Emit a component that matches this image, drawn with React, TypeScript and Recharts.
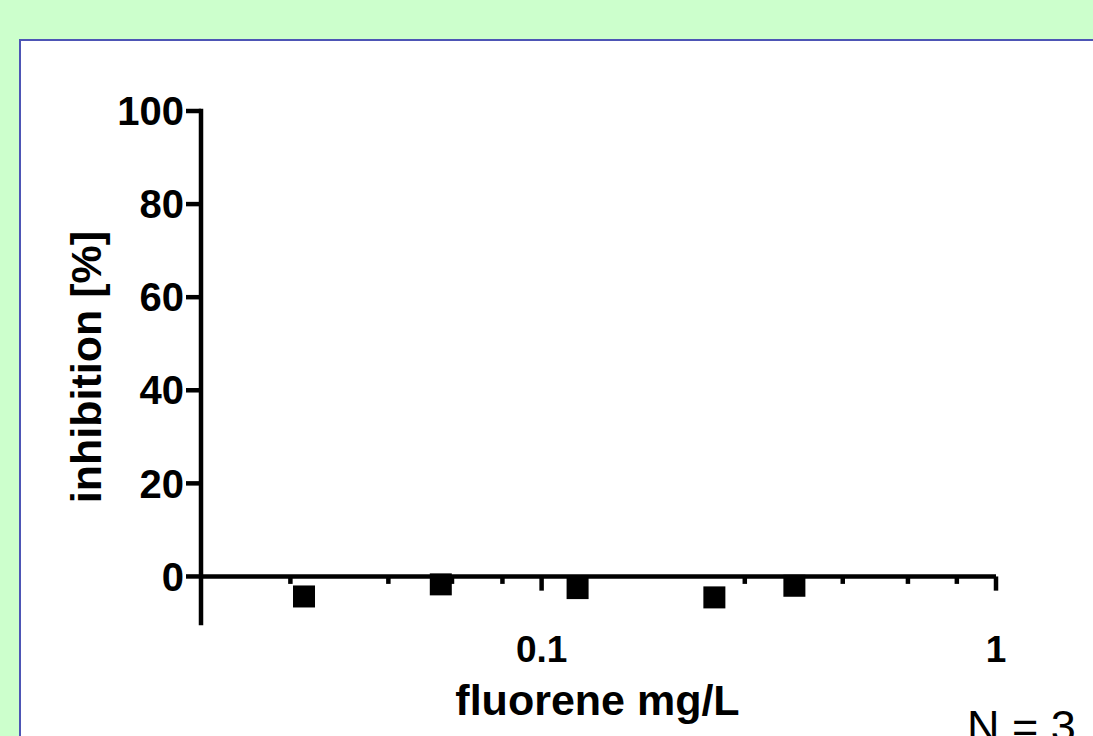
import React from 'react';
import { ScatterChart, Scatter, XAxis, YAxis, ReferenceLine, Label } from 'recharts';

// Data
const concentrations = [0.03, 0.06, 0.12, 0.24, 0.36]; // fluorene mg/L
const inhibition = [-4.3, -1.7, -2.5, -4.5, -2.0]; // %

const xMajorTicks = [0.1, 1];
const xMinorTicks = [0.028, 0.046, 0.0635, 0.082, 0.28, 0.46, 0.64, 0.82];
const yTicks = [0, 20, 40, 60, 80, 100];

const xTitle = 'fluorene mg/L';
const yTitle = 'inhibition [%]';
const nLabel = 'N = 3';

const points = concentrations.map((x, i) => ({ x, y: inhibition[i] }));

const FONT = '"Liberation Sans", Arial, Helvetica, sans-serif';

const SquareShape = (props: any) => {
  const { cx, cy } = props;
  const s = 22;
  return <rect x={cx - s / 2} y={cy - s / 2} width={s} height={s} fill="#000" />;
};

const XTitle = (props: any) => {
  const vb = props.viewBox || { x: 0, y: 0, width: 0, height: 0 };
  return (
    <text
      x={vb.x + vb.width / 2 - 1}
      y={vb.y + 92}
      textAnchor="middle"
      fontFamily={FONT}
      fontWeight={700}
      fontSize={43}
      fill="#000"
    >
      {xTitle}
    </text>
  );
};

const NText = (props: any) => {
  const vb = props.viewBox || { x: 0, y: 0, width: 0, height: 0 };
  return (
    <text
      x={vb.x + vb.width - 29}
      y={vb.y + 119}
      textAnchor="start"
      fontFamily={FONT}
      fontWeight={400}
      fontSize={45}
      fill="#000"
    >
      {nLabel}
    </text>
  );
};

const YTitle = (props: any) => {
  const vb = props.viewBox || { x: 0, y: 0, width: 0, height: 0 };
  const cx = vb.x + 101;
  const cy = vb.y + vb.height / 2;
  return (
    <text
      x={cx}
      y={cy}
      transform={`rotate(-90, ${cx}, ${cy})`}
      textAnchor="middle"
      fontFamily={FONT}
      fontWeight={700}
      fontSize={43}
      fill="#000"
    >
      {yTitle}
    </text>
  );
};

export default function App() {
  return (
    <div
      style={{
        position: 'fixed',
        left: 0,
        top: 0,
        width: 1093,
        height: 736,
        background: '#CCFFCC',
        overflow: 'hidden',
      }}
    >
      <div
        style={{
          position: 'absolute',
          left: 19,
          top: 39,
          width: 1200,
          height: 800,
          background: '#FFFFFF',
          border: '2.5px solid #4D55B5',
          boxSizing: 'border-box',
        }}
      />
      <div style={{ position: 'absolute', left: 0, top: 0 }}>
        <ScatterChart width={1093} height={736} margin={{ top: 111, right: 97, bottom: 13, left: 0 }}>
          <XAxis
            dataKey="x"
            type="number"
            scale="log"
            domain={[0.0178, 1]}
            allowDataOverflow
            ticks={xMajorTicks}
            interval={0}
            axisLine={false}
            tickLine={false}
            tickSize={0}
            tickMargin={13}
            height={100}
            tickFormatter={(v: number) => String(v)}
            tick={{ fill: '#000', fontSize: 37, fontWeight: 700, fontFamily: FONT }}
          >
            <Label content={<XTitle />} />
            <Label content={<NText />} />
          </XAxis>
          <YAxis
            dataKey="y"
            type="number"
            domain={[-10, 100]}
            allowDataOverflow
            ticks={yTicks}
            interval={0}
            width={201}
            tickSize={15}
            tickMargin={2}
            axisLine={{ stroke: '#000', strokeWidth: 4.5, strokeLinecap: 'square' }}
            tickLine={{ stroke: '#000', strokeWidth: 4.5 }}
            tick={{ fill: '#000', fontSize: 40, fontWeight: 700, fontFamily: FONT }}
          >
            <Label content={<YTitle />} />
          </YAxis>
          <ReferenceLine y={0} stroke="#000" strokeWidth={4.5} />
          {xMinorTicks.map((v) => (
            <ReferenceLine
              key={`minor-${v}`}
              segment={[
                { x: v, y: 0 },
                { x: v, y: -1.6 },
              ]}
              stroke="#000"
              strokeWidth={4.5}
            />
          ))}
          {xMajorTicks.map((v) => (
            <ReferenceLine
              key={`major-${v}`}
              segment={[
                { x: v, y: 0 },
                { x: v, y: -3.05 },
              ]}
              stroke="#000"
              strokeWidth={4.5}
            />
          ))}
          <Scatter data={points} shape={<SquareShape />} fill="#000" isAnimationActive={false} />
        </ScatterChart>
      </div>
    </div>
  );
}
